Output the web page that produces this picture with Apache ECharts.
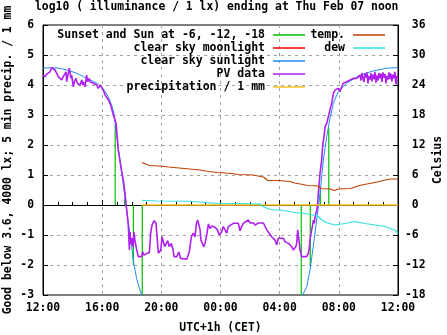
<!DOCTYPE html>
<html><head><meta charset="utf-8">
<script src="https://cdn.jsdelivr.net/npm/echarts@6/dist/echarts.min.js"></script>
<style>html,body{margin:0;padding:0;background:#fff}#c{width:447px;height:335px}</style>
</head><body><div id="c"></div>
<script>
// ---- text ----
const titleText = 'log10 ( illuminance / 1 lx) ending at Thu Feb 07 noon';
const xName = 'UTC+1h (CET)';
const yLeftName = 'Good below 3.6, 4000 lx; 5 min precip. / 1 mm';
const yRightName = 'Celsius';
const sunName = 'Sunset and Sun at -6, -12, -18';
const moonName = 'clear sky moonlight';
const skyName = 'clear sky sunlight';
const pvName = 'PV data';
const precipName = 'precipitation / 1 mm';
const tempName = 'temp.';
const dewName = 'dew';

// ---- data: x = hours since Wed 12:00 (UTC+1h) ----
// Sun events: [hour, clear-sky log10 lx at that moment]
const sunEvents = [[4.88, 2.67], [5.52, 0.22], [6.11, -2.0], [6.71, -3.0],
                   [17.46, -3.0], [18.07, -2.0], [18.75, 0.57], [19.32, 2.56]];
const moonlight = [];
const skyEvening = [[0.00,4.57],[0.95,4.57],[1.37,4.53],[1.83,4.47],[2.28,4.39],[2.72,4.28],[3.18,4.17],
  [3.52,4.09],[3.74,4.02],[3.97,3.94],[4.19,3.78],[4.41,3.61],[4.64,3.33],[4.80,3.06],[4.88,2.72],
  [5.09,1.9],[5.32,1.11],[5.54,0.25],[5.77,-0.6],[6.00,-1.39],[6.10,-1.85],[6.33,-2.45],[6.56,-2.85],[6.76,-3.1]];
const skyMorning = [[17.37,-3.2],[17.56,-3.0],[17.83,-2.72],[18.05,-2.17],[18.27,-1.39],[18.50,-0.5],
  [18.73,0.39],[18.95,1.5],[19.18,2.28],[19.40,2.89],[19.63,3.39],[19.96,3.78],[20.53,4.06],[21.43,4.33],
  [22.33,4.47],[23.24,4.56],[24.00,4.58]];
const pvData = [[0.00,4.33],[0.14,4.28],[0.25,4.36],[0.36,4.39],[0.47,4.44],[0.59,4.58],[0.70,4.61],[0.81,4.5],
  [0.93,4.39],[1.03,4.28],[1.15,4.22],[1.26,4.17],[1.37,4.28],[1.49,4.22],[1.56,4.44],[1.60,4.11],[1.71,4.39],
  [1.78,4.56],[1.83,4.5],[1.89,4.22],[1.94,4.33],[2.05,3.94],[2.12,4.11],[2.23,4.22],[2.32,4.06],[2.39,4.11],
  [2.50,4.0],[2.62,4.17],[2.68,4.0],[2.72,4.11],[2.84,3.94],[2.95,4.33],[3.02,4.11],[3.13,4.22],[3.18,4.11],
  [3.29,4.17],[3.40,4.06],[3.52,4.0],[3.63,4.0],[3.74,3.89],[3.85,4.0],[3.97,3.94],[4.08,3.83],[4.19,3.67],
  [4.31,3.72],[4.42,3.5],[4.53,3.56],[4.58,3.33],[4.64,3.28],[4.75,3.0],[4.87,2.83],[4.94,2.72],[5.09,1.83],
  [5.32,1.11],[5.43,0.83],[5.54,0.39],[5.66,-0.17],[5.73,-0.5],[5.77,-0.7],[5.84,-1.5],[5.88,-0.9],[5.95,-1.3],
  [6.02,-1.1],[6.09,-1.4],[6.15,-0.9],[6.22,-1.2],[6.34,-1.5],[6.44,-1.72],[6.67,-1.72],[6.74,-1.56],[6.83,-1.67],
  [7.01,-1.62],[7.19,-1.58],[7.28,-0.94],[7.37,-0.67],[7.51,-0.52],[7.64,-0.61],[7.73,-0.63],[7.80,-1.61],
  [7.96,-1.5],[8.05,-1.06],[8.13,-1.11],[8.23,-1.39],[8.36,-1.33],[8.43,-1.19],[8.54,-1.39],[8.67,-1.28],
  [8.77,-1.44],[8.86,-1.72],[9.04,-1.72],[9.18,-1.57],[9.31,-1.78],[9.72,-1.81],[9.89,-1.56],[10.03,-1.06],
  [10.16,-0.94],[10.28,-1.06],[10.37,-0.61],[10.46,-0.5],[10.55,-0.56],[10.62,-0.83],[10.68,-1.17],[10.80,-1.22],
  [10.87,-1.39],[10.95,-1.28],[11.07,-1.0],[11.18,-0.63],[11.29,-0.78],[11.41,-0.7],[11.51,-0.67],[11.63,-0.74],
  [11.79,-0.83],[11.92,-1.0],[12.08,-0.89],[12.19,-0.72],[12.31,-0.67],[12.42,-0.94],[12.53,-0.72],[12.64,-0.67],
  [12.87,-0.61],[13.20,-0.61],[13.32,-0.86],[13.43,-0.72],[13.54,-0.61],[13.66,-0.56],[13.88,-0.5],[14.00,-0.6],
  [14.22,-0.6],[14.33,-0.67],[14.56,-0.6],[14.90,-0.6],[15.01,-0.56],[15.13,-0.83],[15.23,-0.89],[15.46,-1.06],
  [15.57,-1.11],[15.69,-1.17],[15.80,-1.33],[15.91,-1.11],[16.02,-1.17],[16.25,-1.11],[16.36,-1.22],[16.48,-1.17],
  [16.59,-1.28],[16.70,-1.33],[16.82,-1.39],[16.92,-1.5],[17.04,-1.56],[17.09,-1.39],[17.15,-1.28],[17.22,-0.83],
  [17.31,-0.89],[17.38,-1.5],[17.49,-1.72],[17.83,-1.72],[17.94,-1.61],[18.01,-1.39],[18.05,-1.17],[18.12,-0.94],
  [18.21,-0.72],[18.28,-0.5],[18.34,-0.61],[18.39,-0.39],[18.51,-0.17],[18.57,0.06],[18.61,0.39],[18.73,1.06],
  [18.84,1.5],[18.91,2.0],[19.00,2.28],[19.07,2.61],[19.18,2.72],[19.29,2.94],[19.40,3.17],[19.52,3.39],
  [19.63,3.72],[19.74,3.83],[19.86,3.78],[19.97,3.89],[20.08,3.78],[20.20,3.94],[20.30,4.06],[20.53,4.11],
  [20.76,4.17],[20.98,4.22],[21.21,4.22],[21.43,4.33],[21.50,4.15],[21.57,4.40],[21.63,4.22],[21.70,4.10],
  [21.77,4.38],[21.84,4.25],[21.90,4.42],[21.97,4.05],[22.04,4.30],[22.11,4.18],[22.17,4.40],[22.24,4.12],
  [22.31,4.35],[22.38,4.20],[22.44,4.44],[22.51,4.08],[22.58,4.32],[22.65,4.15],[22.71,4.40],[22.78,4.22],
  [22.85,4.38],[22.92,4.10],[22.98,4.42],[23.05,4.25],[23.12,4.36],[23.19,4.05],[23.25,4.30],[23.32,4.18],
  [23.39,4.42],[23.46,4.20],[23.52,4.38],[23.59,4.12],[23.66,4.35],[23.73,4.22],[23.79,4.44],[23.86,4.02],
  [23.93,4.30],[24.00,4.25]];
const precipData = [[6.67,0],[24.0,0]];
const tempData = [[6.67,8.5],[6.8,8.2],[7.2,7.9],[7.9,7.8],[8.5,7.6],[9.2,7.4],[9.9,7.2],[10.6,7.0],[11.2,6.7],
  [11.8,6.5],[12.8,6.3],[13.2,6.1],[14.2,6.0],[14.3,5.7],[14.9,5.6],[15.0,5.2],[15.2,4.9],[15.9,4.9],[16.0,4.8],
  [16.7,4.7],[17.0,4.4],[17.4,4.2],[17.5,4.0],[17.9,3.9],[18.6,3.8],[18.8,3.3],[19.4,3.2],[19.5,2.8],[19.7,2.9],
  [19.95,3.2],[20.8,3.3],[20.9,3.7],[21.4,3.9],[21.5,4.1],[21.9,4.2],[22.0,4.5],[22.6,4.6],[22.7,5.0],[23.3,5.1],
  [23.4,5.5],[23.5,5.2],[24.0,5.2]];
const dewData = [[6.67,0.95],[7.71,0.8],[9.74,0.75],[10.61,0.6],[11.76,0.3],[13.52,0.3],[14.67,0.2],[14.87,-0.3],
  [15.35,-0.9],[16.23,-1.1],[17.04,-1.5],[17.71,-1.7],[18.25,-2.0],[18.59,-2.3],[18.86,-3.0],[19.13,-3.5],
  [19.74,-4.0],[20.42,-3.7],[21.09,-3.3],[21.77,-3.7],[22.45,-4.0],[23.12,-4.3],[23.46,-4.7],[23.8,-5.0],[24.0,-5.7]];

// ---- styling ----
const FONT = 'DejaVu Sans Mono';
const txt = {fontFamily: FONT, fontWeight: 'bold', fontSize: 11.4, color: '#000'};
const C = {sun:'#00c000', moon:'#f00000', sky:'#1e8cf0', pv:'#b020f0', precip:'#ffc020', temp:'#c04000', dew:'#30e0e0'};

function lineSeries(name, data, color, width, yIdx) {
  return {type:'line', name, data, yAxisIndex: yIdx || 0, showSymbol:false, symbol:'none',
    color, lineStyle:{color, width}, emphasis:{disabled:true}, silent:true, animation:false};
}
const series = [];
sunEvents.forEach(e => series.push(lineSeries(sunName, [[e[0],0],[e[0],e[1]]], C.sun, 1.2)));
series.push(lineSeries(moonName, moonlight, C.moon, 1));
series.push(lineSeries(skyName, skyEvening, C.sky, 1));
series.push(lineSeries(skyName, skyMorning, C.sky, 1));
series.push(lineSeries(pvName, pvData, C.pv, 1.6));
series.push(lineSeries(precipName, precipData, C.precip, 1.5));
series.push(lineSeries(tempName, tempData, C.temp, 1.2, 1));
series.push(lineSeries(dewName, dewData, C.dew, 1.2, 1));

function leg(name, right, top) {
  return {data:[name], right, top, align:'right', orient:'vertical', icon:'rect', itemWidth:32, itemHeight:1.5,
    padding:0, selectedMode:false, textStyle:Object.assign({}, txt, {fontSize:11.5, padding:[0,3,0,0]})};
}
const legends = [
  leg(sunName, 142, 29), leg(moonName, 142, 42), leg(skyName, 142, 55), leg(pvName, 142, 68), leg(precipName, 142, 81),
  leg(tempName, 62, 29), leg(dewName, 62, 42)
];

const pad2 = n => (n < 10 ? '0' : '') + n;
const chart = echarts.init(document.getElementById('c'), null, {renderer:'canvas'});
chart.setOption({
  animation:false,
  backgroundColor:'#fff',
  title:{text:titleText, left:35, top:1, padding:0, textStyle:Object.assign({lineHeight:13}, txt)},
  legend:legends,
  grid:{left:43, right:49, top:25, bottom:40, containLabel:false, outerBoundsMode:'none',
    show:true, borderColor:'#000', borderWidth:1, backgroundColor:'transparent'},
  xAxis:{type:'value', min:0, max:24, interval:4,
    axisLine:{show:true, lineStyle:{color:'#000', width:1}},
    axisTick:{inside:true, length:5, lineStyle:{color:'#000'}},
    minorTick:{show:true, splitNumber:4, length:3, lineStyle:{color:'#000'}},
    splitLine:{show:true, showMinLine:false, showMaxLine:false, lineStyle:{color:'#a0a0a0', type:[3,4], width:1}},
    axisLabel:Object.assign({margin:8, formatter: v => pad2((12 + v) % 24) + ':00'}, txt),
    name:xName, nameLocation:'middle', nameGap:28, nameMoveOverlap:false, nameTextStyle:Object.assign({}, txt)},
  yAxis:[
    {type:'value', min:-3, max:6, interval:1, position:'left',
      axisLine:{show:true, lineStyle:{color:'#000', width:1}},
      axisTick:{inside:true, length:5, lineStyle:{color:'#000'}},
      splitLine:{show:true, showMinLine:false, showMaxLine:false, lineStyle:{color:'#a0a0a0', type:[3,4], width:1}},
      axisLabel:Object.assign({margin:9}, txt),
      name:yLeftName, nameLocation:'middle', nameRotate:90, nameGap:29, nameMoveOverlap:false,
      nameTextStyle:Object.assign({}, txt)},
    {type:'value', min:-18, max:36, interval:6, position:'right',
      axisLine:{show:true, lineStyle:{color:'#000', width:1}},
      axisTick:{inside:true, length:5, lineStyle:{color:'#000'}},
      splitLine:{show:false},
      axisLabel:Object.assign({margin:7, align:'left', formatter: v => (v < 0 ? '' : ' ') + v}, txt),
      name:yRightName, nameLocation:'middle', nameRotate:90, nameGap:35, nameMoveOverlap:false,
      nameTextStyle:Object.assign({}, txt)}
  ],
  series
});
</script></body></html>
